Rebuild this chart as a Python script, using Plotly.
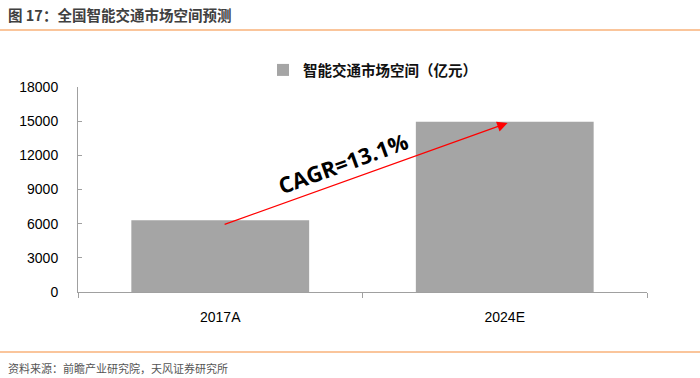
import plotly.graph_objects as go

categories = ["2017A", "2024E"]
values = [6300, 14940]
series_name = "智能交通市场空间（亿元）"
tick_vals = [0, 3000, 6000, 9000, 12000, 15000, 18000]
cagr_label = "CAGR=13.1%"
title_text = "图 17：全国智能交通市场空间预测"
source_text = "资料来源：前瞻产业研究院，天风证券研究所"

W, H = 700, 378
L, R, T, B = 78, 53, 87, 86
pw, ph = W - L - R, H - T - B


def px(x):
    return (x - L) / pw


def py(y):
    return (H - B - y) / ph


fig = go.Figure()
fig.add_trace(go.Bar(
    x=categories, y=values, name="<b>" + series_name + "</b>",
    marker=dict(color="#A5A5A5", line=dict(width=0)),
    showlegend=True,
))

fig.update_layout(
    width=W, height=H,
    margin=dict(l=L, r=R, t=T, b=B, autoexpand=False),
    paper_bgcolor="white", plot_bgcolor="white",
    bargap=0.375,
    showlegend=True,
    legend=dict(orientation="h", x=px(263), xanchor="left", itemwidth=30,
                y=1 - 70 / H, yanchor="middle", yref="container", xref="paper",
                font=dict(family="Noto Sans CJK SC", size=14.5, color="#111"),
                bgcolor="rgba(0,0,0,0)"),
    font=dict(family="Liberation Sans, Arial", color="#111"),
)

fig.update_xaxes(
    showline=True, linecolor="#A0A0A0", linewidth=1,
    ticks="outside", ticklen=5, tickcolor="#A0A0A0",
    tickson="boundaries", automargin=False,
    tickfont=dict(family="Liberation Sans, Arial", size=14, color="#000"),
    ticklabelstandoff=12,
    showgrid=False,
)
fig.update_yaxes(
    range=[0, 18000], tickvals=tick_vals, tickformat="d",
    showline=True, linecolor="#A0A0A0", linewidth=1,
    ticks="inside", ticklen=4, tickcolor="#A0A0A0",
    showgrid=False, zeroline=False, automargin=False,
    tickfont=dict(family="Liberation Sans, Arial", size=14, color="#000"),
    ticklabelstandoff=16,
)

# CAGR arrow
fig.add_annotation(
    x=1.01, y=values[1] * 0.993, ax=0.01, ay=values[0] * 0.935,
    xref="x", yref="y", axref="x", ayref="y",
    showarrow=True, arrowhead=2, arrowsize=1.6, arrowwidth=1.3,
    arrowcolor="#FF0000", text="",
)
fig.add_annotation(
    x=0.43, y=11300, xref="x", yref="y", text="<b>" + cagr_label + "</b>",
    showarrow=False, textangle=-20,
    font=dict(family="Open Sans", size=22, color="#000"),
)

# Header and footer
fig.add_annotation(
    x=px(6), y=py(15), xref="paper", yref="paper", text="<b>" + title_text + "</b>",
    showarrow=False, xanchor="left", yanchor="middle",
    font=dict(family="Noto Sans CJK SC", size=14.5, color="#404040"),
)
fig.add_annotation(
    x=px(6), y=py(368), xref="paper", yref="paper", text=source_text,
    showarrow=False, xanchor="left", yanchor="middle",
    font=dict(family="Noto Sans CJK SC", size=11, color="#555"),
)
fig.add_shape(type="line", xref="paper", yref="paper", x0=px(0), x1=px(W), y0=py(30), y1=py(30),
              line=dict(color="#F8B27A", width=1.5))
fig.add_shape(type="line", xref="paper", yref="paper", x0=px(0), x1=px(W), y0=py(352), y1=py(352),
              line=dict(color="#F8B27A", width=1.5))

fig.write_html("out.html", config={"displayModeBar": False},
               post_script="document.body.style.margin='0';document.body.style.overflow='hidden';")
